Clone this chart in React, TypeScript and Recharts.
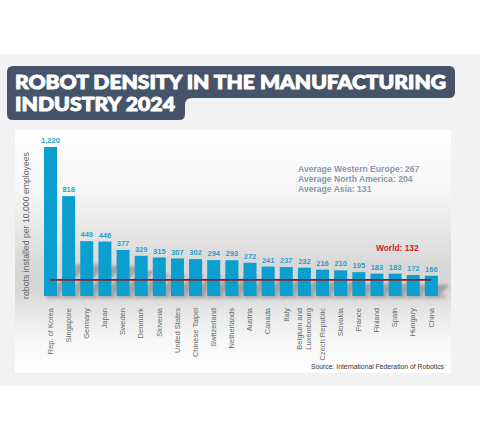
import React from "react";
import { BarChart, Bar, XAxis, YAxis, ReferenceLine, LabelList } from "recharts";

const countries = [
  "Rep. of Korea", "Singapore", "Germany", "Japan", "Sweden", "Denmark", "Slovenia",
  "United States", "Chinese Taipei", "Switzerland", "Netherlands", "Austria", "Canada",
  "Italy", "Belgium and Luxembourg", "Czech Republic", "Slovakia", "France", "Finland",
  "Spain", "Hungary", "China",
];
const density = [1220, 818, 449, 446, 377, 329, 315, 307, 302, 294, 293, 272, 241, 237, 232, 216, 210, 195, 183, 183, 172, 166];
const worldAverage = 132;
const regionalAverages = [
  "Average Western Europe: 267",
  "Average North America: 204",
  "Average Asia: 131",
];
const titleLines = ["ROBOT DENSITY IN THE MANUFACTURING", "INDUSTRY 2024"];
const yAxisTitle = "robots installed per 10,000 employees";
const sourceText = "Source: International Federation of Robotics";

const data = countries.map((c, i) => ({ country: c, value: density[i] }));

const BAR = "#0a9fcf";
const LABEL = "#2a9fcb";
const SANS = "'Liberation Sans', Arial, sans-serif";

const XTick = (props: any) => {
  const { x, y, payload } = props;
  const label: string = payload.value;
  const lines = label === "Belgium and Luxembourg" ? ["Belgium and", "Luxembourg"] : [label];
  return (
    <g transform={`translate(${x},${y + 4}) rotate(-90)`}>
      {lines.map((ln, i) => (
        <text
          key={i}
          x={0}
          y={0}
          dy={lines.length === 1 ? 2.7 : i === 0 ? -1.8 : 7}
          textAnchor="end"
          fontSize={7.5}
          fontFamily={SANS}
          fill="#6b6b6b"
        >
          {ln}
        </text>
      ))}
    </g>
  );
};

const ShadowBar = (props: any) => {
  const { x, y, width, height, fill, index } = props;
  const base = y + height;
  const d = Math.min(height * 0.55, 32);
  const id = `shb${index}`;
  return (
    <g>
      <defs>
        <filter id={id} x="-50%" y="-50%" width="200%" height="200%">
          <feGaussianBlur stdDeviation="1.8" />
        </filter>
      </defs>
      <polygon
        points={`${x + 2},${base} ${x + width + 2},${base} ${x + width + d},${base - d} ${x + d},${base - d}`}
        fill="rgba(0,0,0,0.24)"
        filter={`url(#${id})`}
      />
      <rect x={x + 2} y={base - 1} width={width + 6} height={4} fill="rgba(0,0,0,0.14)" filter={`url(#${id})`} />
      <rect x={x} y={y} width={width} height={height} fill={fill} />
    </g>
  );
};

const fmt = (v: any) => Number(v).toLocaleString("en-US");

export default function App() {
  return (
    <div style={{ position: "absolute", left: 0, top: 0, width: 480, height: 440, background: "#ffffff", overflow: "hidden" }}>
      <div style={{ position: "absolute", left: 0, top: 54, width: 480, height: 332, background: "#f2f2f2" }} />
      <div
        style={{
          position: "absolute",
          left: 15,
          top: 130,
          width: 436,
          height: 243,
          background:
            "linear-gradient(to bottom, #ffffff 0%, #f6f6f6 25%, #e6e6e6 42%, #d8d8d8 55%, #d6d6d6 66%, #e8e8e8 76%, #f7f7f7 86%, #ffffff 100%)",
        }}
      >
        <BarChart width={436} height={243} data={data} margin={{ top: 17, right: 11, left: 26, bottom: 0 }}>
          <XAxis
            dataKey="country"
            interval={0}
            height={77}
            axisLine={false}
            tickLine={false}
            tick={<XTick />}
          />
          <YAxis hide domain={[0, 1220]} />
          <Bar dataKey="value" fill={BAR} barSize={13} isAnimationActive={false} shape={<ShadowBar />}>
            <LabelList
              dataKey="value"
              position="top"
              offset={4}
              formatter={fmt}
              fill={LABEL}
              fontSize={7.5}
              fontWeight="bold"
              fontFamily={SANS}
            />
          </Bar>
          <ReferenceLine
            segment={[
              { x: countries[0], y: worldAverage },
              { x: countries[countries.length - 1], y: worldAverage },
            ]}
            stroke="#8e1b26"
            strokeWidth={1.6}
          />
        </BarChart>
      </div>
      <svg width={480} height={440} style={{ position: "absolute", left: 0, top: 0, pointerEvents: "none" }}>
        <path
          d="M13,66 H449 Q455,66 455,72 V92 Q455,98 449,98 H192 Q185,98 185,105 V114 Q185,120 179,120 H13 Q7,120 7,114 V72 Q7,66 13,66 Z"
          fill="#45546a"
        />
        <text x={15} y={89} fontFamily="Lato, 'Open Sans', sans-serif" fontWeight={900} fontSize={18} fill="#ffffff" stroke="#ffffff" strokeWidth={0.9} strokeLinejoin="round" textLength={431} lengthAdjust="spacingAndGlyphs">
          {titleLines[0]}
        </text>
        <text x={15} y={111} fontFamily="Lato, 'Open Sans', sans-serif" fontWeight={900} fontSize={18} fill="#ffffff" stroke="#ffffff" strokeWidth={0.9} strokeLinejoin="round" textLength={160} lengthAdjust="spacingAndGlyphs">
          {titleLines[1]}
        </text>
        <text
          x={25.5}
          y={225.5}
          transform="rotate(-90, 25.5, 225.5)"
          textAnchor="middle"
          dominantBaseline="central"
          fontFamily={SANS}
          fontSize={8.7}
          fill="#666666"
        >
          {yAxisTitle}
        </text>
        {regionalAverages.map((t, i) => (
          <text key={i} x={298} y={172 + i * 10} fontFamily={SANS} fontWeight="bold" fontSize={8.6} fill="#8b9aae">
            {t}
          </text>
        ))}
        <text x={376} y={251} fontFamily={SANS} fontWeight="bold" fontSize={8.4} fill="#d01f26">
          {`World: ${worldAverage}`}
        </text>
        <text x={444} y={368.5} textAnchor="end" fontFamily={SANS} fontSize={6.8} fill="#333333">
          {sourceText}
        </text>
      </svg>
    </div>
  );
}
